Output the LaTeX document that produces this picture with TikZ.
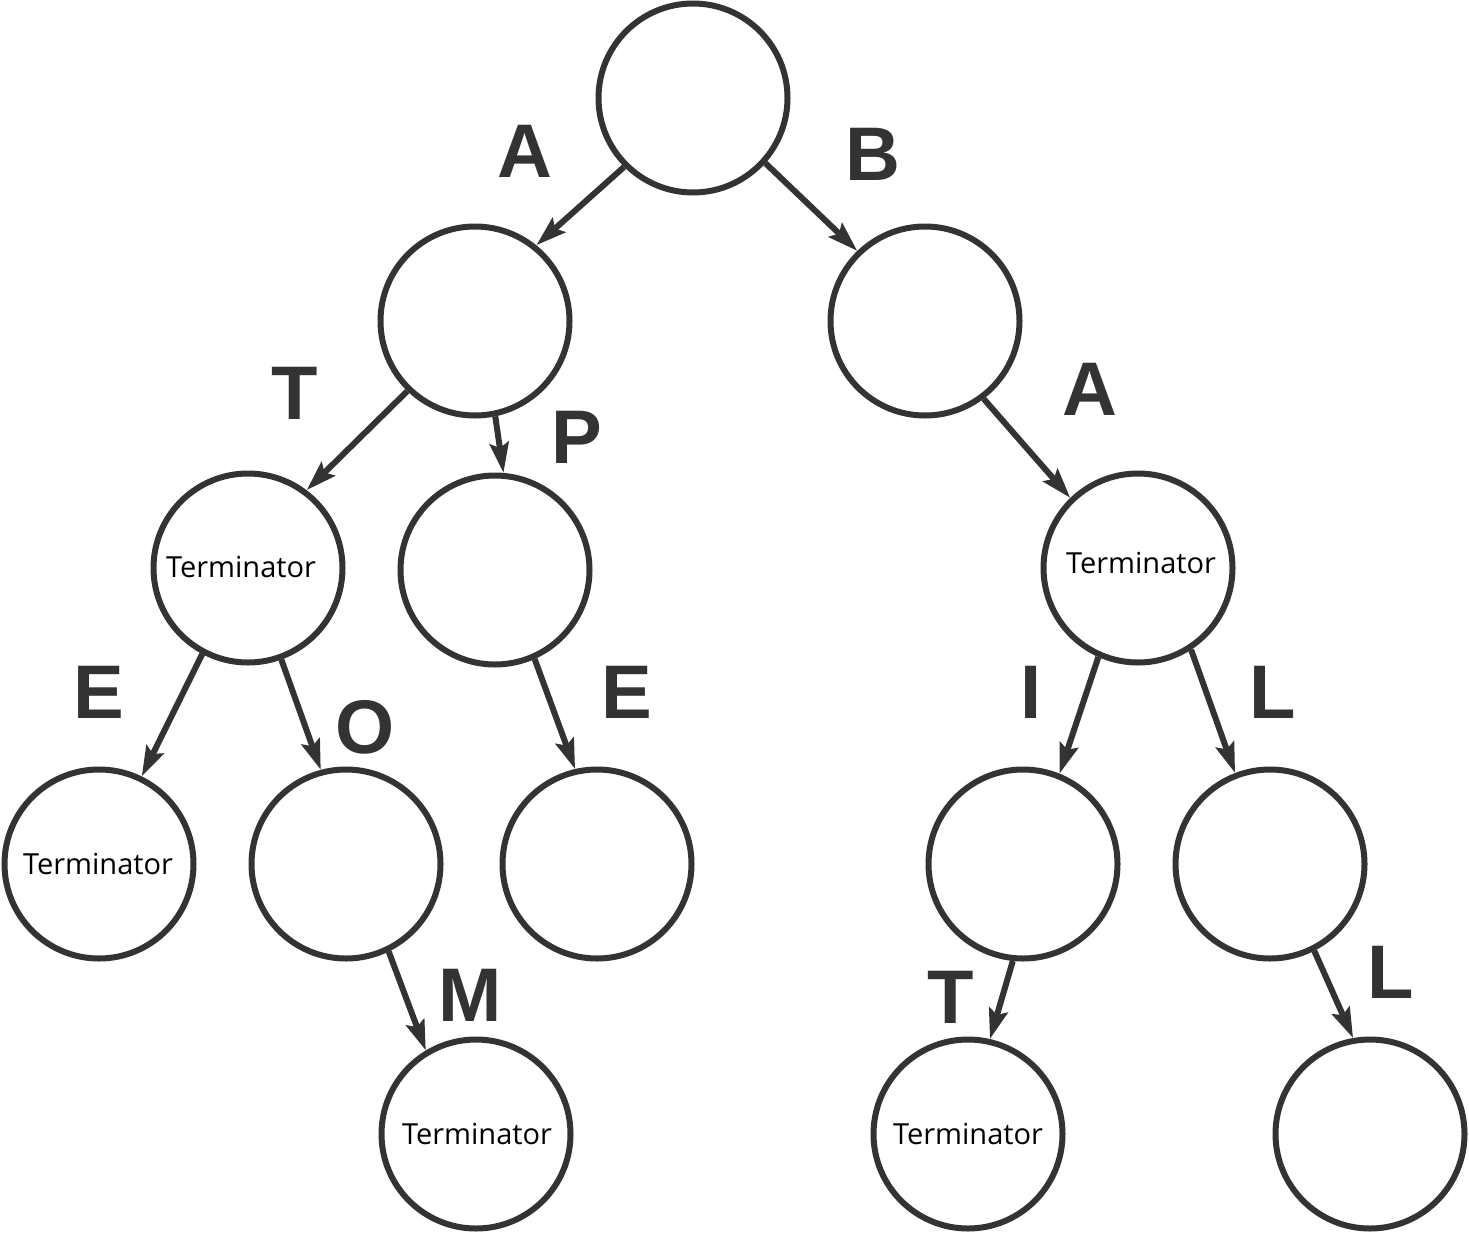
\documentclass[tikz,border=0pt]{standalone}
\usepackage{fontspec}
\setmainfont{Open Sans}
\newfontfamily\lblfont{Liberation Sans}
\usetikzlibrary{arrows.meta}
\definecolor{dk}{HTML}{333333}
\tikzset{
  tn/.style={circle,draw=dk,line width=6pt,minimum size=189pt,inner sep=0pt,
    font=\fontsize{29}{31}\selectfont,text=black},
  arr/.style={draw=dk,line width=6pt,-{Stealth[length=30pt,width=19pt,inset=5pt]}},
  lb/.style={inner sep=0pt,text=dk,font=\lblfont\bfseries\fontsize{76}{80}\selectfont}
}
\begin{document}
\begin{tikzpicture}[x=1pt,y=-1pt]
\useasboundingbox (0,0) rectangle (1469,1234);
\node[tn] (root) at (693,98) {};
\node[tn] (l1l) at (475,321) {};
\node[tn] (l1r) at (925,321) {};
\node[tn] (tl) at (248,568) {};
\node[tn] (p) at (495,570) {};
\node[tn] (tr) at (1138,568) {};
\node[tn] (el) at (99,864) {};
\node[tn] (o) at (346,864) {};
\node[tn] (e) at (597,864) {};
\node[tn] (i) at (1023,864) {};
\node[tn] (l) at (1270,864) {};
\node[tn] (m) at (476,1134) {};
\node[tn] (t) at (968,1134) {};
\node[tn] (ll) at (1370,1134) {};
\node[tn,draw=none,minimum size=0pt] (tltxt) at (241,567) {Terminator};
\node[tn,draw=none,minimum size=0pt] (trtxt) at (1141,563) {Terminator};
\node[tn,draw=none,minimum size=0pt] (eltxt) at (98,864) {Terminator};
\node[tn,draw=none,minimum size=0pt] (mtxt) at (477,1134) {Terminator};
\node[tn,draw=none,minimum size=0pt] (ttxt) at (968,1134) {Terminator};
\draw[arr] (root.225) -- (l1l.51);
\draw[arr] (root.-42) -- (l1r.134);
\draw[arr] (l1l.226) -- (tl.53);
\draw[arr] (l1l.-78) -- (p.85);
\draw[arr] (l1r.-53) -- (tr.134);
\draw[arr] (tl.-118) -- (el.64);
\draw[arr] (tl.-70) -- (o.105);
\draw[arr] (p.-66) -- (e.103);
\draw[arr] (tr.-114) -- (i.68);
\draw[arr] (tr.-57) -- (l.111);
\draw[arr] (o.-64) -- (m.121);
\draw[arr] (i.-96) -- (t.77);
\draw[arr] (l.-63) -- (ll.100);
\node[lb] (la) at (525,151) {A};
\node[lb] (lbb) at (873,154) {B};
\node[lb] (lt) at (295,393) {T};
\node[lb] (lp) at (577,437) {P};
\node[lb] (la2) at (1090,389) {A};
\node[lb] (le) at (99,692) {E};
\node[lb] (lo) at (365,727) {O};
\node[lb] (le2) at (627,692) {E};
\node[lb] (li) at (1031,692) {I};
\node[lb] (ll1) at (1273,692) {L};
\node[lb] (lm) at (470,995) {M};
\node[lb] (lt2) at (951,997) {T};
\node[lb] (ll2) at (1391,972) {L};
\end{tikzpicture}
\end{document}
